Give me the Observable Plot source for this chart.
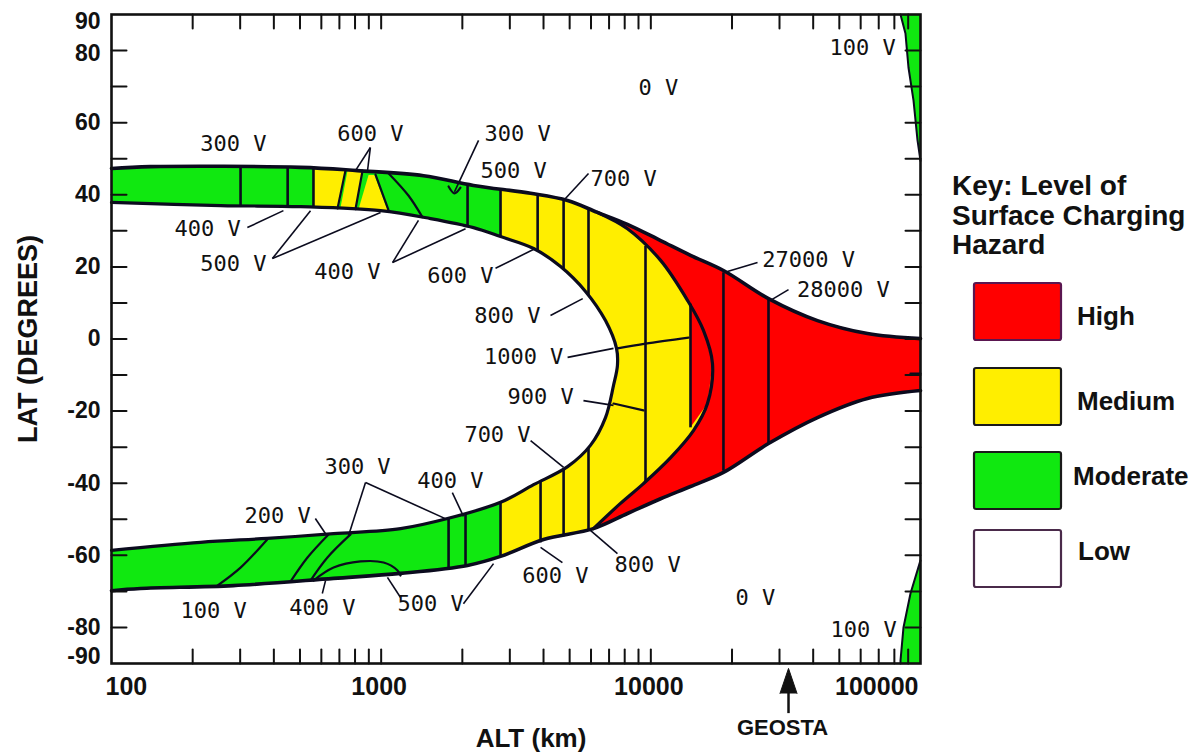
<!DOCTYPE html>
<html><head><meta charset="utf-8">
<script src="https://cdn.jsdelivr.net/npm/d3@7"></script>
<script src="https://cdn.jsdelivr.net/npm/@observablehq/plot@0.6"></script>
<style>
html,body{margin:0;padding:0;background:#fff;}
#wrap{position:relative;width:1202px;height:752px;overflow:hidden;background:#fff;}
#wrap svg{position:absolute;left:0;top:0;}
</style></head><body><div id="wrap"></div>
<script>
// ---------------- data (altitude km, latitude deg) ----------------
const outerTop = [[100,47.3],[139.5,47.8],[502,47.6],[817,46.7],[1436,45.3],[2200,42.6],[3582,40.4],[4913,38.4],[6340,35.1],[8190,31.8],[10870,27.3],[14030,23.2],[18590,19.0],[27310,11.2],[41480,5.1],[63580,1.5],[100000,0.1]];
const outerBottom = [[100,-69.8],[128,-69.2],[283,-68.4],[666,-66.4],[1180,-65.0],[2091,-62.8],[2771,-60.3],[4000,-55.6],[6125,-52.6],[8190,-48.4],[10870,-44.3],[14030,-40.9],[18590,-37.0],[27310,-29.0],[41480,-21.8],[63580,-16.5],[100000,-14.3]];
const innerBoundary = [[100,37.9],[254,37.0],[502,36.7],[995,35.6],[1524,33.4],[2200,30.9],[2771,28.4],[3675,25.1],[4627,20.1],[5725,13.2],[6790,5.1],[7460,-2.6],[7520,-7.3],[7270,-12.9],[6790,-21.8],[5970,-29.5],[4913,-35.4],[3675,-40.4],[2771,-45.3],[1762,-49.8],[1180,-52.6],[666,-54.0],[378,-55.3],[214,-56.4],[100,-58.6]];
const hazardArc = [[6340,35.1],[8190,30.6],[10870,21.8],[13680,10.7],[15670,2.4],[16930,-6.8],[16220,-17.9],[14390,-25.4],[11840,-32.9],[9390,-40.1],[7715,-45.6],[6125,-52.6]];
const lensLine = [14030, 9.8, -24.5];
const yellowPatches = [
  [[561,47.2],[738,46.7],[689,35],[561,35]],
  [[750,46.6],[853,46.6],[797,35],[701,35]],
  [[898,45.5],[944,45.5],[1064,35],[817,35]]
];
const slivTop = [[84300,90],[87960,84.7],[90240,75.3],[94200,66.2],[97490,55.1],[100000,49.4]];
const slivBot = [[100000,-61.4],[91800,-70.6],[86480,-80.0],[84300,-89.2],[84300,-90]];
const dividers = [
  [301,47.6,37.0],[450,47.6,36.7],[561,47.4,36.6],
  [2091,42.9,31.1],[2771,41.5,28.4],[3804,40.0,24.4],[4748,38.6,19.3],[5873,36.1,12.0],
  [5873,-30.0,-52.9],[4748,-35.9,-54.7],[3900,-39.3,-56.4],[2771,-45.3,-60.3],[2055,-48.3,-62.9],[1778,-49.7,-63.4],
  [9555,25.8,-39.6],[14030,9.8,-24.5],[18590,18.5,-36.5],[27310,11.2,-29.0]
];
const contours = [
  [[7520,-2.6],[9555,-1.3],[13800,0.4]],
  [[7270,-17.9],[9390,-19.8]],
  [[738,46.9],[689,36.2]],
  [[853,46.7],[803,36.0]],
  [[953,45.6],[1064,35.8]],
  [[1064,46.0],[1262,39.8],[1422,33.8]],
  [[1778,42.3],[1870,40.4],[1968,42.0]],
  [[378,-55.6],[301,-63.4],[247,-68.4]],
  [[638,-54.2],[533,-60.6],[461,-67.3]],
  [[770,-54.2],[632,-60.6],[547,-67.0]],
  [[561,-67.0],[666,-63.4],[838,-61.7],[1021,-62.0],[1150,-64.2],[1180,-65.6]],
  [[91800,-9.6],[100000,-9.6]]
];
const leaders = [
  [[912,53.1],[803,46.7]],[[912,53.1],[890,46.7]],[[2297,55.1],[1870,40.8]],[[5873,45.9],[4748,38.4]],
  [[319,30.9],[434,35.6]],[[395,22.3],[547,35.6]],[[395,22.3],[995,35.1]],
  [[1102,21.2],[1375,32.9]],[[1102,21.2],[2055,30.6]],[[2655,19.6],[3730,25.1]],
  [[24870,21.2],[19240,18.7]],[[32400,13.7],[27780,10.7]],
  [[4245,6.5],[5590,11.2]],[[4913,-5.1],[7270,-2.6]],[[5625,-17.1],[7270,-18.4]],[[3582,-28.2],[4748,-35.6]],
  [[1836,-42.6],[2019,-49.2]],[[875,-39.8],[757,-54.5]],[[875,-39.8],[1762,-50.1]],[[570,-49.8],[622,-54.0]],
  [[605,-70.6],[622,-67.0]],[[1180,-71.7],[1055,-66.1]],[[2019,-73.4],[2610,-62.3]],
  [[4700,-62.0],[3900,-57.8]],[[7520,-59.5],[5970,-53.1]]
];
const labels = [
  ["300 V",283,54.2],["600 V",912,57.0],["300 V",3206,57.0],["500 V",3097,46.7],["700 V",7925,44.5],
  ["400 V",227,30.4],["500 V",283,20.9],["400 V",750,18.7],["600 V",1968,17.6],
  ["27000 V",38470,22.0],["28000 V",51800,13.5],
  ["800 V",2940,6.5],["1000 V",3375,-4.9],["900 V",3900,-16.2],["700 V",2700,-26.5],
  ["400 V",1807,-39.3],["300 V",817,-35.6],["200 V",413,-49.0],
  ["100 V",239,-75.3],["400 V",605,-74.7],["500 V",1524,-73.4],["600 V",4426,-65.6],["800 V",9725,-62.8],
  ["0 V",10670,69.5],["0 V",24430,-71.7],["100 V",60950,80.8],["100 V",61500,-80.8]
];
const geoArrow = [{alt: 32400, tail: -103.9, base: -98.3, name: "GEOSTA"}];
const xTicks = [200,300,400,500,600,700,800,900,1000,2000,3000,4000,5000,6000,7000,8000,9000,10000,20000,30000,40000,50000,60000,70000,80000,90000];
const yTicks = [-80,-70,-60,-50,-40,-30,-20,-10,0,10,20,30,40,50,60,70,80];
const xTickLabels = [100, 1000, 10000, 100000];
const yTickLabels = [90, 80, 60, 40, 20, 0, -20, -40, -60, -80, -90];
const legendLabels = ["High", "Medium", "Moderate", "Low"];
const legendColors = ["#ff0000", "#ffee00", "#10e810", "#ffffff"];
const legendTitle = ["Key: Level of", "Surface Charging", "Hazard"];

// ---------------- styles ----------------
const GREEN = "#10e810", YELLOW = "#ffee00", RED = "#ff0000", INK = "#0b0b1e";
const SANS = "'Liberation Sans', Arial, Helvetica, sans-serif";
const MONO = "'DejaVu Sans Mono', monospace";

const X = d => d[0], Y = d => d[1];
const poly = (pts, fill) => Plot.line(pts, {x: X, y: Y, fill, stroke: "none", curve: "linear-closed"});
const flat = arr => arr.flatMap((pts, i) => pts.map(p => ({x: p[0], y: p[1], id: i})));
const tickShape = {draw(context, l) { context.moveTo(0, 0); context.lineTo(0, -l); }};
const tickMark = (data, ch, frameAnchor, rotate, length) =>
  Plot.vector(data, {[ch]: d => d, frameAnchor, rotate, length, anchor: "start", shape: tickShape, stroke: "#111", strokeWidth: 2});

const greenPoly = [...outerTop, ...outerBottom.slice().reverse()];
const yellowMain = [[2771,41.5], ...outerTop.filter(p => p[0] > 2771 && p[0] < 6340), ...hazardArc,
  ...outerBottom.filter(p => p[0] >= 2771 && p[0] < 6125).reverse()];
const redPoly = [...outerTop.filter(p => p[0] >= 6340), ...outerBottom.filter(p => p[0] >= 6125).reverse(),
  ...hazardArc.slice(1, -1).reverse()];
const lensPoly = [[lensLine[0], lensLine[1]], ...hazardArc.filter(p => p[1] < lensLine[1] && p[1] > lensLine[2]), [lensLine[0], lensLine[2]]];
const slivTopPoly = [...slivTop, [100000, 90]];
const slivBotPoly = [...slivBot, [100000, -90]];

const txt = {fill: "#111", fontWeight: "bold"};
const chart = Plot.plot({
  width: 1202, height: 752,
  marginLeft: 111, marginRight: 282, marginTop: 14, marginBottom: 89,
  x: {type: "log", domain: [100, 100000], axis: null},
  y: {domain: [-90, 90], axis: null},
  style: {fontFamily: SANS, background: "transparent", overflow: "visible"},
  marks: [
    poly(greenPoly, GREEN),
    ...yellowPatches.map(p => poly(p, YELLOW)),
    poly(yellowMain, YELLOW),
    poly(redPoly, RED),
    poly(lensPoly, RED),
    poly(innerBoundary, "white"),
    poly(slivTopPoly, GREEN),
    poly(slivBotPoly, GREEN),
    // divider and contour lines
    Plot.link(dividers, {x1: d => d[0], x2: d => d[0], y1: d => d[1], y2: d => d[2], stroke: INK, strokeWidth: 2.6}),
    Plot.line(flat(contours), {x: "x", y: "y", z: "id", stroke: INK, strokeWidth: 2.2, curve: "catmull-rom"}),
    // boundaries
    Plot.line(outerTop, {x: X, y: Y, stroke: INK, strokeWidth: 3.6, curve: "catmull-rom"}),
    Plot.line(outerBottom, {x: X, y: Y, stroke: INK, strokeWidth: 3.6, curve: "catmull-rom"}),
    Plot.line(innerBoundary, {x: X, y: Y, stroke: INK, strokeWidth: 3.2, curve: "catmull-rom"}),
    Plot.line(hazardArc, {x: X, y: Y, stroke: INK, strokeWidth: 3.2, curve: "catmull-rom"}),
    Plot.line(slivTop, {x: X, y: Y, stroke: INK, strokeWidth: 2}),
    Plot.line(slivBot, {x: X, y: Y, stroke: INK, strokeWidth: 2}),
    // leaders
    Plot.link(leaders, {x1: d => d[0][0], y1: d => d[0][1], x2: d => d[1][0], y2: d => d[1][1], stroke: INK, strokeWidth: 1.6}),
    // contour labels
    Plot.text(labels, {x: d => d[1], y: d => d[2], text: d => d[0], fontFamily: MONO, fontSize: 22, fill: "#111"}),
    // inward ticks on all four sides
    tickMark(xTicks, "x", "bottom", 0, 14),
    tickMark(xTicks, "x", "top", 180, 14),
    tickMark(yTicks, "y", "left", 90, 15),
    tickMark(yTicks, "y", "right", -90, 15),
    // tick labels
    Plot.text(xTickLabels.slice(0, 1), {x: d => d, frameAnchor: "bottom", dy: 23, dx: -6, textAnchor: "start", lineAnchor: "middle", text: d => String(d), fontSize: 25, ...txt}),
    Plot.text(xTickLabels.slice(1, 3), {x: d => d, frameAnchor: "bottom", dy: 23, dx: -2, textAnchor: "middle", lineAnchor: "middle", text: d => String(d), fontSize: 25, ...txt}),
    Plot.text(xTickLabels.slice(3), {x: d => d, frameAnchor: "bottom", dy: 23, dx: -2, textAnchor: "end", lineAnchor: "middle", text: d => String(d), fontSize: 25, ...txt}),
    Plot.text(yTickLabels.slice(0, 1), {y: d => d, frameAnchor: "left", dx: -11, dy: 7, textAnchor: "end", lineAnchor: "middle", text: d => String(d), fontSize: 23, ...txt}),
    Plot.text(yTickLabels.slice(1, 2), {y: d => d, frameAnchor: "left", dx: -11, dy: 3, textAnchor: "end", lineAnchor: "middle", text: d => String(d), fontSize: 23, ...txt}),
    Plot.text(yTickLabels.slice(2, -1), {y: d => d, frameAnchor: "left", dx: -11, textAnchor: "end", lineAnchor: "middle", text: d => String(d), fontSize: 23, ...txt}),
    Plot.text(yTickLabels.slice(-1), {y: d => d, frameAnchor: "left", dx: -11, dy: -7, textAnchor: "end", lineAnchor: "middle", text: d => String(d), fontSize: 23, ...txt}),
    // axis titles
    Plot.text(["ALT (km)"], {frameAnchor: "bottom", dx: 15, dy: 75, textAnchor: "middle", lineAnchor: "middle", text: d => d, fontSize: 26, ...txt}),
    Plot.text(["LAT (DEGREES)"], {frameAnchor: "left", dx: -83, rotate: -90, textAnchor: "middle", lineAnchor: "middle", text: d => d, fontSize: 27, ...txt}),
    // GEOSTA arrow
    Plot.ruleX(geoArrow, {x: "alt", y1: "tail", y2: "base", stroke: "#111", strokeWidth: 2.5}),
    Plot.vector(geoArrow, {x: "alt", y: "base", length: 25, r: 8.5, shape: "spike", anchor: "start", fill: "#111", stroke: "#111", strokeWidth: 1}),
    Plot.text(geoArrow, {x: "alt", frameAnchor: "bottom", dy: 64, dx: -6, textAnchor: "middle", lineAnchor: "middle", text: "name", fontSize: 22, ...txt}),
    Plot.frame({stroke: "#111", strokeWidth: 2.6})
  ]
});
const wrap = document.getElementById("wrap");
wrap.appendChild(chart);

// ---------------- legend ----------------
const leg = d3.select(wrap).append("svg").attr("width", 1202).attr("height", 752)
  .style("font-family", SANS).style("pointer-events", "none");
leg.selectAll("text.title").data(legendTitle).join("text").attr("class", "title")
  .attr("x", 952).attr("y", (d, i) => 195 + i * 29.5)
  .attr("font-size", 28).attr("font-weight", "bold").attr("fill", "#111").text(d => d);
const boxY = [283, 368, 452, 530], labY = [325, 410, 485, 560], labX = [1077, 1077, 1073, 1078];
const boxStroke = ["#5a1650", "#1a1a1a", "#1a1a1a", "#4a2a4a"];
leg.selectAll("rect").data(legendLabels).join("rect")
  .attr("x", 974).attr("y", (d, i) => boxY[i]).attr("width", 87).attr("height", 57).attr("rx", 2)
  .attr("fill", (d, i) => legendColors[i]).attr("stroke", (d, i) => boxStroke[i]).attr("stroke-width", 2.2);
leg.selectAll("text.lab").data(legendLabels).join("text").attr("class", "lab")
  .attr("x", (d, i) => labX[i]).attr("y", (d, i) => labY[i])
  .attr("font-size", 26).attr("font-weight", "bold").attr("fill", "#111").text(d => d);
</script></body></html>
